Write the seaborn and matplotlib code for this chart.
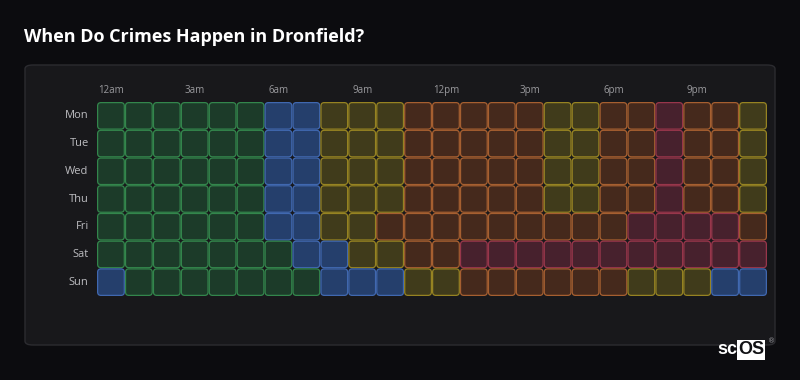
import matplotlib
matplotlib.use("Agg")
import matplotlib.pyplot as plt
import seaborn as sns
import pandas as pd
from matplotlib.colors import ListedColormap
from matplotlib.patches import FancyBboxPatch

days = ["Mon", "Tue", "Wed", "Thu", "Fri", "Sat", "Sun"]
hour_labels = ["12am", "", "", "3am", "", "", "6am", "", "", "9am", "", "",
               "12pm", "", "", "3pm", "", "", "6pm", "", "", "9pm", "", ""]

# crime level per hour: 0 very low, 1 low, 2 medium, 3 high, 4 very high
mon = [0, 0, 0, 0, 0, 0, 1, 1, 2, 2, 2, 3, 3, 3, 3, 3, 2, 2, 3, 3, 4, 3, 3, 2]
tue = [0, 0, 0, 0, 0, 0, 1, 1, 2, 2, 2, 3, 3, 3, 3, 3, 2, 2, 3, 3, 4, 3, 3, 2]
wed = [0, 0, 0, 0, 0, 0, 1, 1, 2, 2, 2, 3, 3, 3, 3, 3, 2, 2, 3, 3, 4, 3, 3, 2]
thu = [0, 0, 0, 0, 0, 0, 1, 1, 2, 2, 2, 3, 3, 3, 3, 3, 2, 2, 3, 3, 4, 3, 3, 2]
fri = [0, 0, 0, 0, 0, 0, 1, 1, 2, 2, 3, 3, 3, 3, 3, 3, 3, 3, 3, 4, 4, 4, 4, 3]
sat = [0, 0, 0, 0, 0, 0, 0, 1, 1, 2, 2, 3, 3, 4, 4, 4, 4, 4, 4, 4, 4, 4, 4, 4]
sun = [1, 0, 0, 0, 0, 0, 0, 0, 1, 1, 1, 2, 2, 3, 3, 3, 3, 3, 3, 2, 2, 2, 1, 1]

fills = ["#1c3b29", "#253f6c", "#403b1b", "#45291c", "#47212d"]
edges = ["#33864c", "#4068b0", "#968322", "#a65f30", "#98364b"]

page_bg = "#0c0c0f"
card_bg = "#18181b"

grid = pd.DataFrame([mon, tue, wed, thu, fri, sat, sun], index=days)

fig = plt.figure(figsize=(8, 3.8), dpi=100, facecolor=page_bg)
font = ["Open Sans", "DejaVu Sans"]

# card behind the chart
card = FancyBboxPatch((25 / 800, 1 - 345 / 380), 750 / 800, 280 / 380,
                      boxstyle="round,pad=0,rounding_size=0.01",
                      transform=fig.transFigure, fc=card_bg, ec="#2c2c30", lw=1,
                      zorder=-10)
fig.patches.append(card)

fig.text(24 / 800, 1 - 37 / 380, "When Do Crimes Happen in Dronfield?",
         color="white", fontsize=13, fontweight="bold", va="center", family=font)

ax = fig.add_axes([97 / 800, 1 - 296 / 380, 670 / 800, 194 / 380])
ax.set_facecolor(card_bg)
sns.heatmap(grid, cmap=ListedColormap(fills), vmin=-0.5, vmax=4.5, cbar=False,
            linewidths=6, linecolor=card_bg, xticklabels=hour_labels,
            yticklabels=days, ax=ax)

inset = 0.022
for i, row in enumerate(grid.values):
    for j, v in enumerate(row):
        ax.add_patch(FancyBboxPatch((j + inset, i + inset), 1 - 2 * inset, 1 - 2 * inset,
                                    boxstyle="round,pad=0,rounding_size=0.12",
                                    fc=fills[v], ec=edges[v], lw=0.9, zorder=3))

ax.xaxis.tick_top()
ax.tick_params(length=0)
ax.tick_params(axis="x", pad=4, labelsize=7, labelcolor="#9a9a9e")
ax.tick_params(axis="y", pad=6, labelsize=8, labelcolor="#bcbcc0")
for lab in ax.get_xticklabels() + ax.get_yticklabels():
    lab.set_family(font)
plt.setp(ax.get_yticklabels(), rotation=0)
plt.setp(ax.get_xticklabels(), rotation=0)
ax.set_xlabel("")
ax.set_ylabel("")

# watermark
fig.text(737 / 800, 1 - 350 / 380, "sc", color="white", fontsize=13, fontweight="bold",
         ha="right", va="center", family=["Liberation Sans", "DejaVu Sans"])
fig.text(738 / 800, 1 - 350 / 380, "OS", color="#111114", fontsize=13, fontweight="bold",
         ha="left", va="center", family=["Liberation Sans", "DejaVu Sans"],
         bbox=dict(fc="white", ec="none", pad=0.8))
fig.text(772 / 800, 1 - 341 / 380, "®", color="#9a9aa0", fontsize=5,
         ha="center", va="center")

fig.savefig("out.png", dpi=100, facecolor=page_bg)
